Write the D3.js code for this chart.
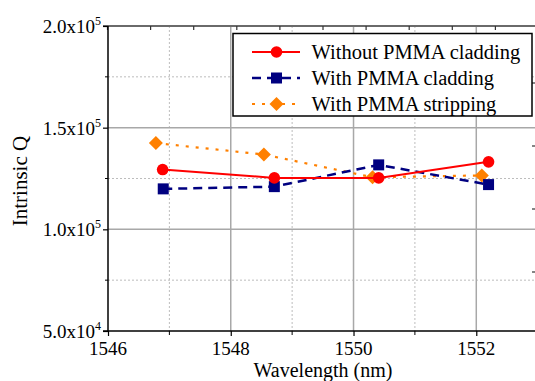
<!DOCTYPE html>
<html><head><meta charset="utf-8">
<script src="https://cdn.jsdelivr.net/npm/d3@7"></script>
<style>body{margin:0;background:#fff}svg{display:block}</style>
</head><body><svg id="c" width="535" height="381" font-family="'Liberation Serif', Tinos, 'Times New Roman', Times, 'DejaVu Serif', serif"></svg>
<script>
const seriesNames = ["Without PMMA cladding", "With PMMA cladding", "With PMMA stripping"];
const withoutX = [1546.89, 1548.71, 1550.41, 1552.20];
const withoutQ = [129400, 125300, 125300, 133200];
const withX = [1546.90, 1548.71, 1550.41, 1552.20];
const withQ = [119900, 121000, 131700, 122000];
const stripX = [1546.78, 1548.54, 1550.31, 1552.09];
const stripQ = [142400, 136800, 125600, 126500];
const xMajorTicks = [1546, 1548, 1550, 1552];
const xMinorTicks = [1547, 1549, 1551, 1553];
const yMajorTicks = [50000, 100000, 150000, 200000];
const yMinorTicks = [75000, 125000, 175000];
const yTickLabels = [["5.0x10","4"],["1.0x10","5"],["1.5x10","5"],["2.0x10","5"]];
const topTicks = [0,1,2,3,4,5,6,7,8,9,10];
const rightTicks = [1,2,3,4];

const svg = d3.select("#c");
const L=108, T=26, B=331;
const x = d3.scaleLinear().domain([1546,1553]).range([L, L+61.38*7]);
const y = d3.scaleLinear().domain([50000,200000]).range([B, T]);
const xTop = d3.scaleLinear().domain([0,10]).range([107.5, 538.5]);
const yRight = d3.scaleLinear().domain([0,5]).range([335, 20]);
const W = 535;

// grid
const g = svg.append("g");
g.selectAll(".ym").data(yMinorTicks).join("line").attr("x1",L).attr("x2",W).attr("y1",d=>y(d)).attr("y2",d=>y(d))
  .attr("stroke","#bdbdbd").attr("stroke-width",1).attr("stroke-dasharray","2,2");
g.selectAll(".xm").data(xMinorTicks).join("line").attr("y1",T).attr("y2",B).attr("x1",d=>x(d)).attr("x2",d=>x(d))
  .attr("stroke","#bdbdbd").attr("stroke-width",1).attr("stroke-dasharray","2,2");
g.selectAll(".yM").data(yMajorTicks.slice(1,3)).join("line").attr("x1",L).attr("x2",W).attr("y1",d=>y(d)).attr("y2",d=>y(d))
  .attr("stroke","#a8a8a8").attr("stroke-width",1.5);
g.selectAll(".xM").data(xMajorTicks.slice(1)).join("line").attr("y1",T).attr("y2",B).attr("x1",d=>x(d)).attr("x2",d=>x(d))
  .attr("stroke","#a8a8a8").attr("stroke-width",1.5);

// top frame and ticks
svg.append("line").attr("x1",103).attr("x2",W).attr("y1",T).attr("y2",T).attr("stroke","#6a6a6a").attr("stroke-width",2);
svg.selectAll(".tt").data(topTicks).join("line").attr("x1",d=>xTop(d)).attr("x2",d=>xTop(d)).attr("y1",T).attr("y2",T+4)
  .attr("stroke","#333").attr("stroke-width",1.2);
svg.selectAll(".rt").data(rightTicks).join("line").attr("x1",532).attr("x2",W).attr("y1",d=>yRight(d)).attr("y2",d=>yRight(d))
  .attr("stroke","#333").attr("stroke-width",1.2);

// axes
const yAxis = d3.axisLeft(y).tickValues(yMajorTicks).tickSize(5).tickFormat("");
const ax = svg.append("g").attr("transform",`translate(${L},0)`).call(yAxis);
ax.selectAll(".minor").data(yMinorTicks).join("line").attr("class","minor").attr("x1",0).attr("x2",-3).attr("y1",d=>y(d)).attr("y2",d=>y(d)).attr("stroke","#000");
ax.select(".domain").attr("d",`M0,${T}V${B}`).attr("stroke","#000").attr("stroke-width",1.5);
ax.selectAll(".tick line").attr("stroke","#000").attr("stroke-width",1.2);

const xAxis = d3.axisBottom(x).tickValues(xMajorTicks).tickSize(5).tickFormat("");
const bx = svg.append("g").attr("transform",`translate(0,${B})`).call(xAxis);
bx.select(".domain").attr("d",`M103,0H${W}`).attr("stroke","#000").attr("stroke-width",1.5);
bx.selectAll(".tick line").attr("stroke","#000").attr("stroke-width",1.2);
bx.selectAll(".minor").data(xMinorTicks).join("line").attr("class","minor").attr("y1",0).attr("y2",4).attr("x1",d=>x(d)).attr("x2",d=>x(d)).attr("stroke","#000");

// tick labels
svg.selectAll(".xl").data(xMajorTicks).join("text").attr("x",d=>x(d)).attr("y",B+24).attr("text-anchor","middle")
  .attr("font-size",19).text(d=>d);
const yl = svg.selectAll(".yl").data(yMajorTicks).join("text").attr("font-size",19).attr("text-anchor","end")
  .attr("transform",d=>`translate(101,${y(d)+7})`);
yl.append("tspan").text((d,i)=>yTickLabels[i][0]);
yl.append("tspan").attr("font-size",12).attr("dy",-8).text((d,i)=>yTickLabels[i][1]);

// titles
svg.append("text").attr("x",323).attr("y",377).attr("text-anchor","middle").attr("font-size",20).text("Wavelength (nm)");
svg.append("text").attr("transform","translate(27,181) rotate(-90)").attr("text-anchor","middle").attr("font-size",21).text("Intrinsic Q");

// series
const series = [
  {name:seriesNames[0], xs:withoutX, ys:withoutQ, color:"#ff0000", dash:null, shape:"circle", w:2},
  {name:seriesNames[1], xs:withX, ys:withQ, color:"#000080", dash:"9,6", shape:"square", w:2.5},
  {name:seriesNames[2], xs:stripX, ys:stripQ, color:"#ff8000", dash:"3,7", shape:"diamond", w:2.2}
];
const line = d3.line().x(d=>x(d[0])).y(d=>y(d[1]));
function marker(sel, shape, color){
  if(shape==="circle") sel.append("circle").attr("r",5.8).attr("fill",color);
  else if(shape==="square") sel.append("rect").attr("x",-5.5).attr("y",-5.5).attr("width",11).attr("height",11).attr("fill",color);
  else sel.append("path").attr("d","M0,-7L7,0L0,7L-7,0Z").attr("fill",color);
}
[series[2],series[1],series[0]].forEach(s=>{
  const pts = s.xs.map((v,i)=>[v,s.ys[i]]);
  svg.append("path").attr("d",line(pts)).attr("fill","none").attr("stroke",s.color).attr("stroke-width",s.w)
    .attr("stroke-dasharray",s.dash);
  pts.forEach(p=>{ const m=svg.append("g").attr("transform",`translate(${x(p[0])},${y(p[1])})`); marker(m,s.shape,s.color); });
});

// legend
const lg = svg.append("g");
lg.append("rect").attr("x",233).attr("y",33.5).attr("width",299).attr("height",82.5).attr("fill","#fff").attr("stroke","#000").attr("stroke-width",1.5);
series.forEach((s,i)=>{
  const cy = 52 + i*26;
  lg.append("line").attr("x1",252).attr("x2",300).attr("y1",cy).attr("y2",cy).attr("stroke",s.color).attr("stroke-width",s.w)
    .attr("stroke-dasharray",s.dash);
  const m = lg.append("g").attr("transform",`translate(276.5,${cy})`); marker(m,s.shape,s.color);
  lg.append("text").attr("x",311.5).attr("y",cy+7).attr("font-size",20.5).text(s.name);
});
</script></body></html>
